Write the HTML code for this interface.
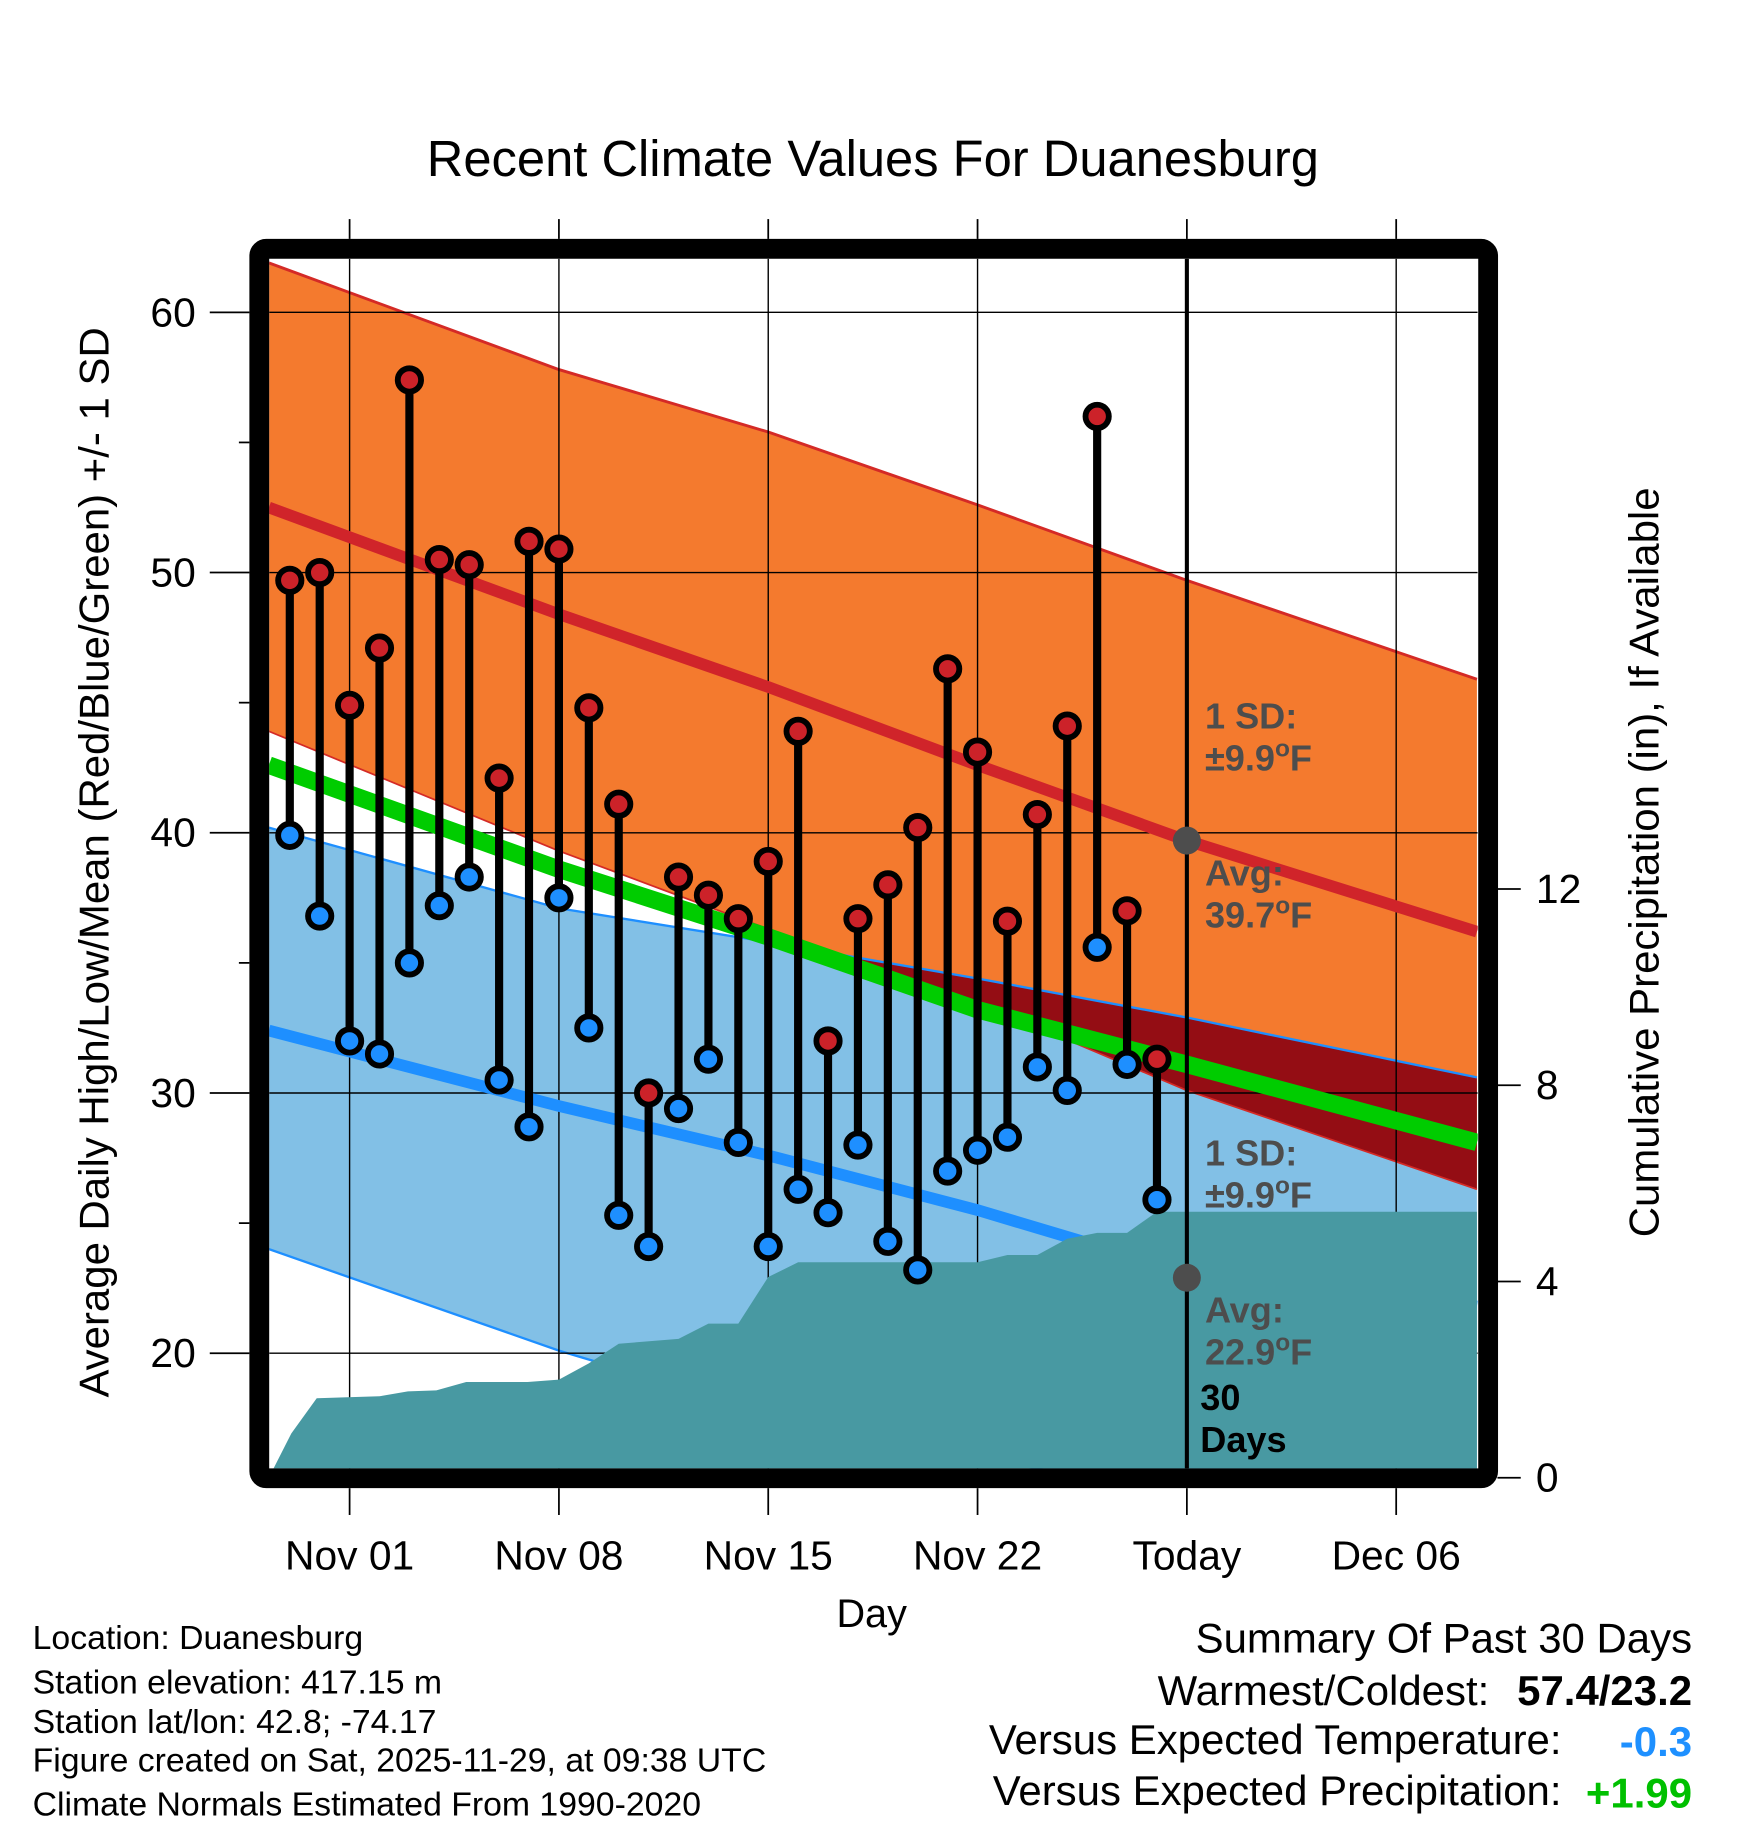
<!DOCTYPE html>
<html><head><meta charset="utf-8"><style>
html,body{margin:0;padding:0;background:#fff}
svg{display:block}
text{font-family:"Liberation Sans",sans-serif}
</style></head><body>
<svg id="chart" width="1748" height="1828" viewBox="0 0 1500 1568.6" preserveAspectRatio="none" xmlns="http://www.w3.org/2000/svg">
<defs><clipPath id="plotclip"><rect x="231" y="222" width="1037" height="1038"/></clipPath></defs>
<g id="bands" clip-path="url(#plotclip)"></g>
<g id="axes"></g>
<text x="749" y="151" font-size="43.5" text-anchor="middle">Recent Climate Values For Duanesburg</text>
<text transform="translate(93,740) rotate(-90)" font-size="36" text-anchor="middle">Average Daily High/Low/Mean (Red/Blue/Green) +/- 1 SD</text>
<text transform="translate(1423,740) rotate(-90)" font-size="36" text-anchor="middle">Cumulative Precipitation (in), If Available</text>
<text x="748" y="1396" font-size="34" text-anchor="middle">Day</text>
<g font-size="29">
<text x="28" y="1415">Location: Duanesburg</text>
<text x="28" y="1453">Station elevation: 417.15 m</text>
<text x="28" y="1487">Station lat/lon: 42.8; -74.17</text>
<text x="28" y="1520">Figure created on Sat, 2025-11-29, at 09:38 UTC</text>
<text x="28" y="1558">Climate Normals Estimated From 1990-2020</text>
</g>
<g font-size="36" text-anchor="end">
<text x="1452" y="1418">Summary Of Past 30 Days</text>
<text x="1278" y="1463">Warmest/Coldest:</text>
<text x="1452" y="1463" font-weight="bold">57.4/23.2</text>
<text x="1340" y="1505">Versus Expected Temperature:</text>
<text x="1452" y="1507" font-weight="bold" fill="#1e90ff">-0.3</text>
<text x="1340" y="1549">Versus Expected Precipitation:</text>
<text x="1452" y="1551" font-weight="bold" fill="#00c000">+1.99</text>
</g>
</svg>
<script>
// ---- data ----
const days = [-2,-1,0,1,2,3,4,5,6,7,8,9,10,11,12,13,14,15,16,17,18,19,20,21,22,23,24,25,26,27];
const highs = [49.7,50.0,44.9,47.1,57.4,50.5,50.3,42.1,51.2,50.9,44.8,41.1,30.0,38.3,37.6,36.7,38.9,43.9,32.0,36.7,38.0,40.2,46.3,43.1,36.6,40.7,44.1,56.0,37.0,31.3];
const lows = [39.9,36.8,32.0,31.5,35.0,37.2,38.3,30.5,28.7,37.5,32.5,25.3,24.1,29.4,31.3,28.1,24.1,26.3,25.4,28.0,24.3,23.2,27.0,27.8,28.3,31.0,30.1,35.6,31.1,25.9];
const normDays = [-2.7,7,14,21,28,37.7];
const normHigh = [52.5,48.4,45.6,42.6,39.7,36.2];
const highUpper = [61.9,57.8,55.4,52.6,49.7,45.9];
const highLower = [43.9,39.3,36.3,33.5,30.1,26.3];
const normMean = [42.6,38.6,36.0,33.2,31.1,28.1];
const normLow = [32.4,29.5,27.6,25.5,23.1,21.8];
const lowUpper = [40.2,37.1,35.8,34.4,32.9,30.6];
const lowLower = [24.0,20.1,17.7,16.0,14.5,12.5];
const precipDays = [-2.7,-1.95,-1.1,1,1.95,2.9,3.9,5.95,7,8,9,11,12,13,14,15,21,22,23,24,25,26,27,37.7];
const precipCum = [0,0.9,1.62,1.66,1.76,1.78,1.95,1.95,2.0,2.33,2.73,2.83,3.14,3.14,4.09,4.39,4.39,4.54,4.54,4.87,4.99,4.99,5.42,5.42];
const xTickDays = [0,7,14,21,28,35];
const xTickLabels = ["Nov 01","Nov 08","Nov 15","Nov 22","Today","Dec 06"];
const yTicks = [20,30,40,50,60];
const yMinor = [25,35,45,55];
const pTicks = [0,4,8,12];
const todayDay = 28;
const todayHighAvg = 39.7, todayLowAvg = 22.9;

// ---- scales ----
const X = d => 300 + d*25.66;
const Y = v => 268 + (60-v)*22.33;
const P = p => 1268 - p*42.1;
const NS = "http://www.w3.org/2000/svg";
function mk(parent, tag, attrs){const e=document.createElementNS(NS,tag);for(const k in attrs)e.setAttribute(k,attrs[k]);parent.appendChild(e);return e;}
const pts = (ds, vs, f) => ds.map((d,i)=>X(d)+","+f(vs[i])).join(" ");
const bandPts = (up, lo) => pts(normDays, up, Y) + " " + pts(normDays.slice().reverse(), lo.slice().reverse(), Y);

const g = document.getElementById('bands');
const ax = document.getElementById('axes');

let e = mk(g,'polygon',{points:bandPts(lowUpper,lowLower),fill:'#82c0e6'});


e = mk(g,'polygon',{points:bandPts(highUpper,highLower),fill:'#f47a2e'});


const defs = document.querySelector('defs');
const cp = mk(defs,'clipPath',{id:'lowclip'});
mk(cp,'polygon',{points:bandPts(lowUpper,lowLower)});
e = mk(g,'polygon',{points:bandPts(highUpper,highLower),fill:'#940d14','clip-path':'url(#lowclip)'});


e = mk(g,'polyline',{points:pts(normDays,highUpper,Y),fill:'none',stroke:'#d42a26','stroke-width':2.5});


e = mk(g,'polyline',{points:pts(normDays,highLower,Y),fill:'none',stroke:'#d42a26','stroke-width':1.5});


e = mk(g,'polyline',{points:pts(normDays,lowUpper,Y),fill:'none',stroke:'#1e8fff','stroke-width':2});


e = mk(g,'polyline',{points:pts(normDays,lowLower,Y),fill:'none',stroke:'#1e8fff','stroke-width':2});


yTicks.forEach(v=>{
  const l = mk(g,'line',{x1:231,x2:1268,y1:Y(v),y2:Y(v),stroke:'#000','stroke-width':1.2});
  
  
});
xTickDays.forEach(d=>{
  const l = mk(g,'line',{x1:X(d),x2:X(d),y1:222,y2:1260,stroke:'#000','stroke-width':1.2});
  
  
});
e = mk(g,'polyline',{points:pts(normDays,normHigh,Y),fill:'none',stroke:'#d0242a','stroke-width':10});


e = mk(g,'polyline',{points:pts(normDays,normLow,Y),fill:'none',stroke:'#1e8fff','stroke-width':10});


e = mk(g,'polyline',{points:pts(normDays,normMean,Y),fill:'none',stroke:'#00cc00','stroke-width':15});


function label(x,y,lines,color,name){
  const t = mk(g,'text',{x:x,y:y,'font-size':31,'font-weight':'bold',fill:color});
  
  
  lines.forEach((s,i)=>{const ts=mk(t,'tspan',{x:x,dy:i?36:0});ts.innerHTML=s;});
}
label(1034,625,["1 SD:","±9.9<tspan dy='-12' font-size='21'>o</tspan><tspan dy='12'>F</tspan>"],'#4d4d4d','high-sd-label');
label(1034,760,["Avg:","39.7<tspan dy='-12' font-size='21'>o</tspan><tspan dy='12'>F</tspan>"],'#4d4d4d','high-avg-label');
label(1034,1000,["1 SD:","±9.9<tspan dy='-12' font-size='21'>o</tspan><tspan dy='12'>F</tspan>"],'#4d4d4d','low-sd-label');
e = mk(g,'polygon',{points:precipDays.map((d,i)=>X(d)+","+P(precipCum[i])).join(" ")+" "+X(37.7)+",1270 "+X(-2.7)+",1270",fill:'#4899a2'});


label(1034,1135,["Avg:","22.9<tspan dy='-12' font-size='21'>o</tspan><tspan dy='12'>F</tspan>"],'#4d4d4d','low-avg-label');
label(1030,1210,["30","Days"],'#000','days-label');
e = mk(g,'line',{x1:X(todayDay),x2:X(todayDay),y1:222,y2:1260,stroke:'#000','stroke-width':3.5});


e = mk(g,'circle',{cx:X(todayDay),cy:Y(todayHighAvg),r:12,fill:'#4d4d4d'});


e = mk(g,'circle',{cx:X(todayDay),cy:Y(todayLowAvg),r:12,fill:'#4d4d4d'});


days.forEach((d,i)=>{
  const bar = mk(g,'line',{x1:X(d),x2:X(d),y1:Y(highs[i]),y2:Y(lows[i]),stroke:'#000','stroke-width':7});
  
  
  const h = mk(g,'circle',{cx:X(d),cy:Y(highs[i]),r:10,fill:'#cc2229',stroke:'#000','stroke-width':5});
  
  
  const l = mk(g,'circle',{cx:X(d),cy:Y(lows[i]),r:10,fill:'#1e8fff',stroke:'#000','stroke-width':5});
  
  
});
yTicks.forEach(v=>{
  const l = mk(ax,'line',{x1:180,x2:214,y1:Y(v),y2:Y(v),stroke:'#000','stroke-width':1.5});
  
  
  const t = mk(ax,'text',{x:168,y:Y(v)+12,'font-size':35,'text-anchor':'end'});
  t.textContent = v;
  
  
});
yMinor.forEach(v=>{
  const l = mk(ax,'line',{x1:205,x2:214,y1:Y(v),y2:Y(v),stroke:'#000','stroke-width':1.5});
  
  
});
pTicks.forEach(p=>{
  const l = mk(ax,'line',{x1:1285,x2:1305,y1:P(p),y2:P(p),stroke:'#000','stroke-width':1.5});
  
  
  const t = mk(ax,'text',{x:1318,y:P(p)+12,'font-size':35});
  t.textContent = p;
  
  
});
xTickDays.forEach((d,i)=>{
  const l1 = mk(ax,'line',{x1:X(d),x2:X(d),y1:188,y2:205,stroke:'#000','stroke-width':1.5});
  
  
  const l2 = mk(ax,'line',{x1:X(d),x2:X(d),y1:1277,y2:1300,stroke:'#000','stroke-width':1.5});
  
  
  const t = mk(ax,'text',{x:X(d),y:1347,'font-size':35,'text-anchor':'middle'});
  t.textContent = xTickLabels[i];
  
  
});
e = mk(ax,'rect',{x:222.5,y:213.5,width:1054.5,height:1055,fill:'none',stroke:'#000','stroke-width':17,rx:6});


</script>
</body></html>
